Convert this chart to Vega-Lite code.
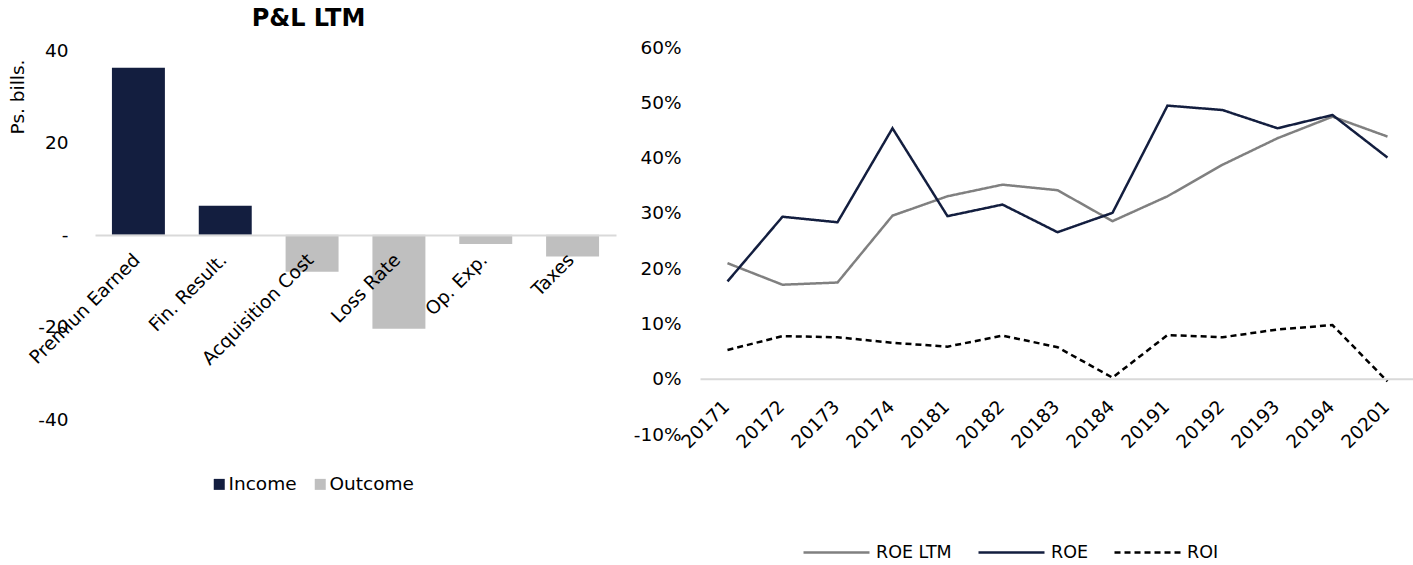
{
  "$schema": "https://vega.github.io/schema/vega-lite/v6.json",
  "padding": {"left": 8, "top": 6, "right": 0, "bottom": 0},
  "autosize": {"type": "pad"},
  "bounds": "flush",
  "spacing": 84,
  "config": {
    "font": "DejaVu Sans",
    "view": {"stroke": null},
    "axis": {"labelFont": "DejaVu Sans", "labelFontSize": 18.5, "labelColor": "#000", "titleFont": "DejaVu Sans", "titleFontSize": 18.5, "titleFontWeight": "normal", "titleColor": "#000", "grid": false, "ticks": false},
    "legend": {"labelFont": "DejaVu Sans", "labelFontSize": 18.5, "labelColor": "#000", "padding": 0}
  },
  "datasets": {
    "pl": [
      {"item": "Premiun Earned", "value": 36.3, "type": "Income"},
      {"item": "Fin. Result.", "value": 6.3, "type": "Income"},
      {"item": "Acquisition Cost", "value": -8.0, "type": "Outcome"},
      {"item": "Loss Rate", "value": -20.4, "type": "Outcome"},
      {"item": "Op. Exp.", "value": -2.0, "type": "Outcome"},
      {"item": "Taxes", "value": -4.7, "type": "Outcome"}
    ],
    "ret": [
      {"q": "20171", "series": "ROE LTM", "value": 0.209},
      {"q": "20172", "series": "ROE LTM", "value": 0.170},
      {"q": "20173", "series": "ROE LTM", "value": 0.174},
      {"q": "20174", "series": "ROE LTM", "value": 0.295},
      {"q": "20181", "series": "ROE LTM", "value": 0.330},
      {"q": "20182", "series": "ROE LTM", "value": 0.351},
      {"q": "20183", "series": "ROE LTM", "value": 0.341},
      {"q": "20184", "series": "ROE LTM", "value": 0.285},
      {"q": "20191", "series": "ROE LTM", "value": 0.330},
      {"q": "20192", "series": "ROE LTM", "value": 0.387},
      {"q": "20193", "series": "ROE LTM", "value": 0.435},
      {"q": "20194", "series": "ROE LTM", "value": 0.474},
      {"q": "20201", "series": "ROE LTM", "value": 0.438},
      {"q": "20171", "series": "ROE", "value": 0.176},
      {"q": "20172", "series": "ROE", "value": 0.293},
      {"q": "20173", "series": "ROE", "value": 0.283},
      {"q": "20174", "series": "ROE", "value": 0.453},
      {"q": "20181", "series": "ROE", "value": 0.294},
      {"q": "20182", "series": "ROE", "value": 0.315},
      {"q": "20183", "series": "ROE", "value": 0.265},
      {"q": "20184", "series": "ROE", "value": 0.300},
      {"q": "20191", "series": "ROE", "value": 0.494},
      {"q": "20192", "series": "ROE", "value": 0.486},
      {"q": "20193", "series": "ROE", "value": 0.453},
      {"q": "20194", "series": "ROE", "value": 0.477},
      {"q": "20201", "series": "ROE", "value": 0.400},
      {"q": "20171", "series": "ROI", "value": 0.052},
      {"q": "20172", "series": "ROI", "value": 0.077},
      {"q": "20173", "series": "ROI", "value": 0.075},
      {"q": "20174", "series": "ROI", "value": 0.065},
      {"q": "20181", "series": "ROI", "value": 0.058},
      {"q": "20182", "series": "ROI", "value": 0.078},
      {"q": "20183", "series": "ROI", "value": 0.057},
      {"q": "20184", "series": "ROI", "value": 0.002},
      {"q": "20191", "series": "ROI", "value": 0.079},
      {"q": "20192", "series": "ROI", "value": 0.075},
      {"q": "20193", "series": "ROI", "value": 0.089},
      {"q": "20194", "series": "ROI", "value": 0.097},
      {"q": "20201", "series": "ROI", "value": -0.005}
    ]
  },
  "hconcat": [
    {
      "width": 521,
      "height": 372,
      "title": {"text": "P&L LTM", "fontSize": 24, "fontWeight": "bold", "color": "#000", "anchor": "middle", "dx": -47, "offset": 11},
      "data": {"name": "pl"},
      "mark": {"type": "bar"},
      "encoding": {
        "x": {"field": "item", "type": "nominal", "sort": null, "scale": {"paddingInner": 0.39, "paddingOuter": 0.195},
          "axis": {"title": null, "labelAngle": -45, "domainColor": "#d9d9d9", "domainWidth": 2, "offset": -184, "labelPadding": 15, "labelOffset": -8, "zindex": 1}},
        "y": {"field": "value", "type": "quantitative", "scale": {"domain": [-40, 40.8], "nice": false},
          "axis": {"title": "Ps. bills.", "values": [-40, -20, 0, 20, 40], "labelExpr": "datum.value == 0 ? '-' : replace(datum.label, '−', '-')", "domain": false, "labelPadding": 27, "titleAngle": -90, "titleX": -78, "titleY": 49.5, "titleAlign": "center", "titleBaseline": "middle"}},
        "color": {"field": "type", "type": "nominal", "scale": {"domain": ["Income", "Outcome"], "range": ["#131e3f", "#bfbfbf"]},
          "legend": {"title": null, "orient": "none", "legendX": 115, "legendY": 428, "direction": "horizontal", "symbolType": "square", "symbolSize": 121, "symbolOpacity": 1, "labelOffset": 0, "columnPadding": 14}}
      }
    },
    {
      "width": 715,
      "height": 387,
      "data": {"name": "ret"},
      "mark": {"type": "line", "strokeWidth": 2.5},
      "encoding": {
        "x": {"field": "q", "type": "ordinal", "sort": null, "scale": {"type": "point", "padding": 0.5},
          "axis": {"title": null, "labelAngle": -45, "domainColor": "#d9d9d9", "domainWidth": 2, "offset": -55.3, "labelPadding": 18, "labelOffset": -8, "zindex": 1}},
        "y": {"field": "value", "type": "quantitative", "scale": {"domain": [-0.1, 0.6], "nice": false},
          "axis": {"title": null, "format": ".0%", "labelExpr": "replace(datum.label, '−', '-')", "values": [-0.1, 0, 0.1, 0.2, 0.3, 0.4, 0.5, 0.6], "domain": false, "labelPadding": 19}},
        "color": {"field": "series", "type": "nominal", "sort": null, "scale": {"domain": ["ROE LTM", "ROE", "ROI"], "range": ["#808080", "#131e3f", "#000000"]},
          "legend": {"title": null, "orient": "none", "legendX": 102, "legendY": 471, "direction": "horizontal", "symbolType": "stroke", "symbolSize": 4356, "symbolStrokeWidth": 2.5, "labelOffset": 5, "columnPadding": 21, "labelFontSize": 17.5}},
        "strokeDash": {"field": "series", "type": "nominal", "sort": null, "scale": {"domain": ["ROE LTM", "ROE", "ROI"], "range": [[1, 0], [1, 0], [6, 4]]},
          "legend": {"title": null, "orient": "none", "legendX": 102, "legendY": 471, "direction": "horizontal", "symbolType": "stroke", "symbolSize": 4356, "symbolStrokeWidth": 2.5, "labelOffset": 5, "columnPadding": 21, "labelFontSize": 17.5}}
      }
    }
  ],
  "resolve": {"scale": {"color": "independent", "strokeDash": "independent", "x": "independent", "y": "independent"}, "legend": {"color": "independent", "strokeDash": "independent"}}
}
